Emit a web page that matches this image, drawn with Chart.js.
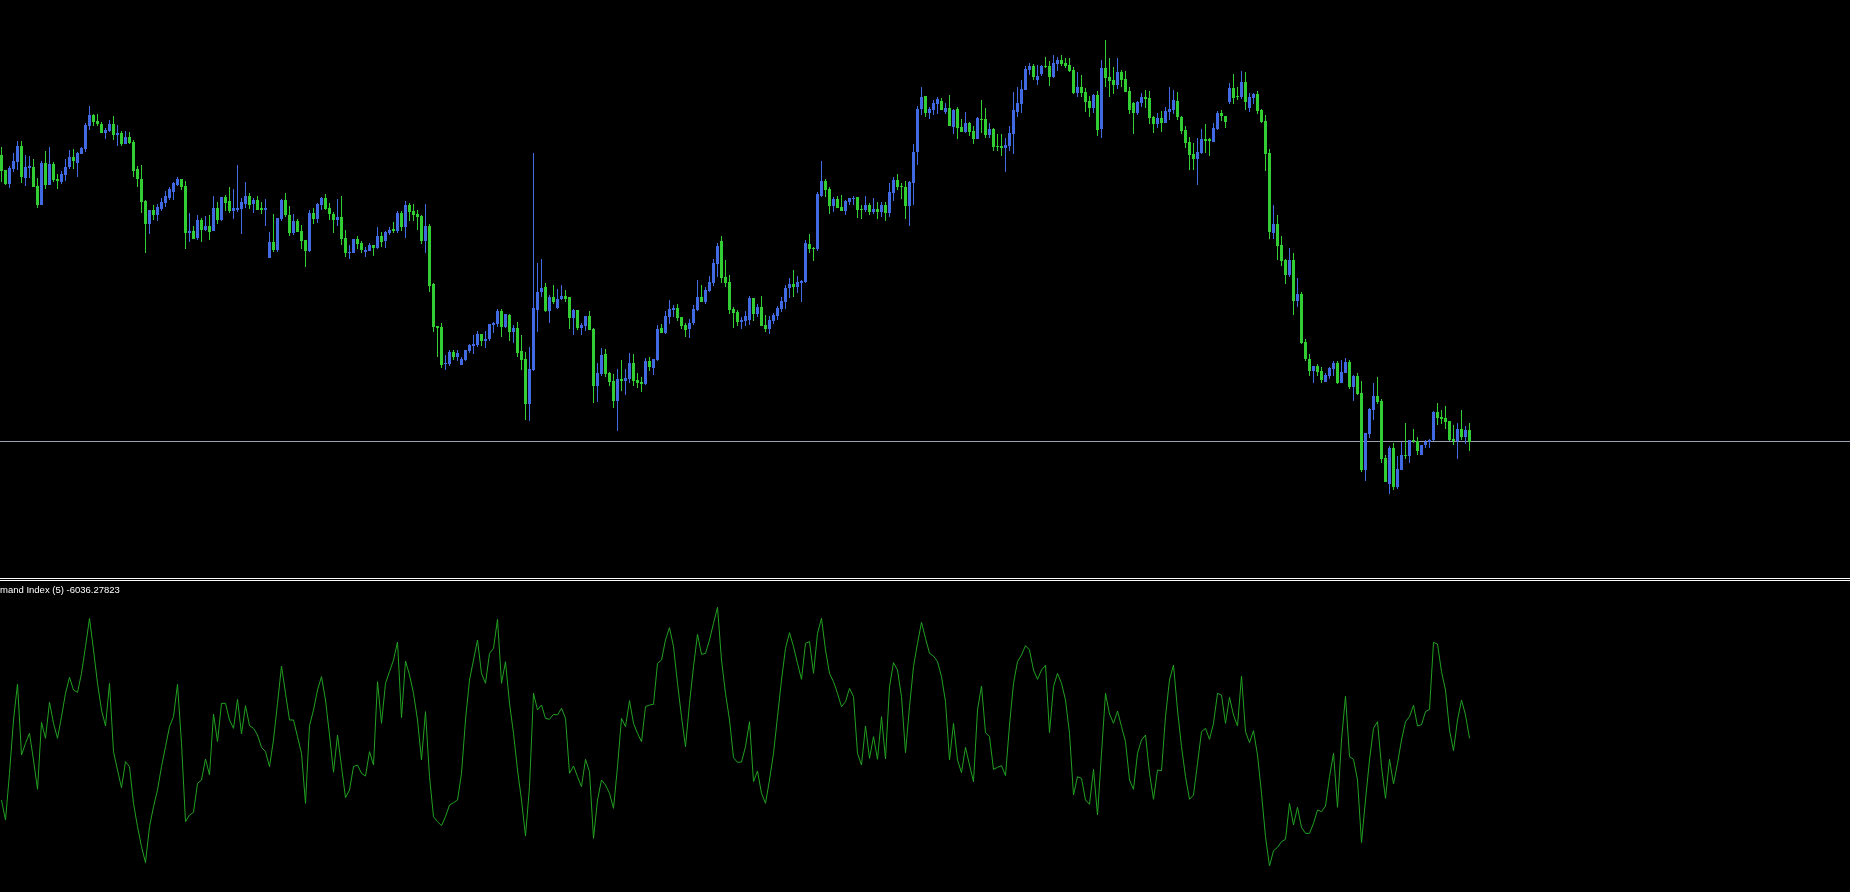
<!DOCTYPE html>
<html>
<head>
<meta charset="utf-8">
<title>Demand Index chart</title>
<script src="https://cdn.jsdelivr.net/npm/chart.js@4.4.1/dist/chart.umd.min.js"></script>
<style>
    html, body { margin: 0; padding: 0; background: #000; overflow: hidden; }
    #page { position: relative; width: 1850px; height: 892px; background: #000; }
    #priceChart { position: absolute; left: 0; top: 0; }
    .sep { position: absolute; left: 0; width: 1850px; height: 1px; background: #fff; }
    #indChart { position: absolute; left: 0; top: 582px; }
    #indLabel {
        position: absolute; left: 0; top: 584px;
        color: #fff; font-family: 'Liberation Sans', Arial, sans-serif;
        font-size: 9.5px; line-height: 12px; white-space: nowrap;
    }
</style>
</head>
<body>
<div id="page">
    <canvas id="priceChart" width="1850" height="578"></canvas>
    <div class="sep" style="top:578px"></div>
    <div class="sep" style="top:580px"></div>
    <canvas id="indChart" width="1850" height="310"></canvas>
    <div id="indLabel">mand Index (5) -6036.27823</div>
</div>
<script>
// ========================================
// data (one entry per bar)
// ========================================

const opens = [
    845, 830, 816, 831, 838, 854, 822, 832, 833, 814,
    795, 837, 815, 836, 821, 818, 825, 833, 843, 837,
    846, 851, 874, 885, 879, 876, 867, 869, 876, 865,
    867, 856, 863, 858, 831, 821, 799, 776, 790, 785,
    791, 797, 802, 808, 815, 821, 814, 767, 769, 762,
    780, 770, 774, 769, 792, 780, 803, 799, 789, 790,
    791, 796, 804, 796, 800, 792, 790, 742, 758, 750,
    781, 800, 785, 767, 779, 769, 760, 749, 787, 781,
    795, 802, 792, 786, 780, 783, 762, 747, 747, 761,
    757, 748, 749, 755, 752, 764, 759, 767, 771, 769,
    787, 773, 795, 789, 786, 784, 759, 774, 716, 674,
    673, 636, 636, 648, 643, 635, 640, 649, 654, 655,
    666, 659, 661, 675, 676, 689, 673, 685, 668, 672,
    649, 641, 596, 630, 690, 708, 713, 689, 703, 692,
    701, 704, 703, 682, 690, 672, 674, 684, 671, 614,
    626, 646, 627, 619, 599, 621, 619, 621, 637, 620,
    618, 616, 639, 632, 640, 672, 667, 683, 690, 692,
    683, 675, 671, 677, 690, 703, 698, 709, 717, 736,
    759, 723, 718, 691, 688, 678, 679, 680, 702, 686,
    693, 675, 671, 679, 684, 691, 698, 712, 716, 713,
    717, 718, 756, 752, 751, 804, 819, 811, 794, 801,
    793, 789, 798, 801, 803, 791, 790, 795, 788, 791,
    788, 795, 787, 807, 820, 814, 813, 794, 817, 848,
    891, 904, 887, 890, 896, 899, 888, 892, 873, 891,
    873, 868, 877, 869, 861, 881, 881, 865, 871, 854,
    854, 852, 854, 866, 888, 896, 910, 930, 934, 920,
    926, 934, 934, 923, 936, 940, 937, 935, 930, 907,
    913, 908, 899, 892, 905, 871, 932, 923, 920, 915,
    928, 921, 909, 897, 887, 897, 903, 902, 883, 876,
    882, 877, 888, 890, 899, 883, 870, 858, 846, 841,
    847, 861, 861, 858, 871, 887, 884, 898, 912, 904,
    903, 918, 892, 902, 906, 890, 879, 847, 767, 776,
    755, 740, 725, 740, 699, 706, 658, 641, 629, 634,
    629, 618, 624, 631, 637, 617, 627, 638, 613, 624,
    607, 530, 566, 590, 604, 599, 542, 516, 552, 513,
    530, 545, 544, 560, 559, 545, 555, 558, 560, 588,
    583, 582, 579, 561, 559, 571, 563, 570
];

const highs = [
    853, 830, 834, 847, 859, 859, 845, 844, 841, 822,
    839, 849, 853, 838, 826, 829, 841, 850, 851, 848,
    853, 877, 894, 886, 886, 878, 872, 880, 884, 875,
    869, 869, 868, 860, 834, 835, 800, 790, 795, 796,
    802, 809, 813, 818, 823, 821, 819, 787, 774, 785,
    782, 784, 785, 804, 798, 803, 805, 813, 811, 835,
    802, 818, 807, 802, 804, 798, 801, 768, 786, 782,
    801, 807, 794, 786, 781, 775, 760, 790, 792, 797,
    803, 806, 797, 788, 801, 804, 770, 755, 761, 764,
    759, 753, 757, 755, 773, 768, 769, 773, 778, 789,
    789, 799, 797, 796, 790, 785, 796, 776, 717, 674,
    677, 645, 650, 650, 650, 643, 650, 656, 665, 669,
    666, 669, 676, 678, 691, 691, 686, 686, 675, 678,
    665, 648, 653, 847, 737, 741, 717, 705, 715, 711,
    715, 710, 703, 691, 690, 677, 684, 689, 672, 637,
    652, 651, 628, 626, 631, 640, 631, 647, 646, 627,
    623, 642, 643, 641, 675, 676, 689, 700, 695, 696,
    683, 677, 681, 695, 720, 715, 713, 724, 741, 757,
    764, 740, 725, 693, 690, 683, 689, 704, 702, 696,
    704, 685, 684, 687, 694, 703, 715, 722, 730, 724,
    720, 760, 766, 753, 808, 839, 821, 813, 803, 804,
    805, 800, 802, 804, 803, 795, 804, 797, 802, 798,
    798, 798, 817, 823, 826, 817, 819, 819, 856, 894,
    913, 904, 893, 900, 903, 902, 897, 905, 891, 893,
    881, 888, 878, 874, 883, 900, 892, 877, 872, 866,
    866, 862, 874, 908, 913, 920, 934, 937, 936, 935,
    935, 943, 939, 945, 943, 945, 942, 942, 933, 928,
    925, 912, 904, 906, 909, 940, 960, 942, 933, 942,
    930, 929, 913, 898, 899, 907, 910, 909, 884, 887,
    889, 893, 913, 910, 908, 884, 874, 863, 857, 862,
    871, 876, 862, 877, 889, 890, 884, 917, 926, 913,
    929, 928, 907, 907, 909, 891, 885, 851, 795, 785,
    764, 741, 752, 747, 722, 708, 661, 646, 634, 636,
    633, 627, 633, 639, 639, 640, 642, 640, 625, 627,
    619, 567, 592, 617, 623, 601, 545, 554, 557, 544,
    558, 577, 560, 571, 563, 555, 560, 561, 589, 597,
    590, 594, 579, 575, 577, 590, 574, 577
];

const lows = [
    818, 815, 812, 828, 830, 817, 814, 822, 813, 792,
    795, 811, 815, 818, 811, 816, 819, 831, 831, 823,
    846, 848, 870, 874, 874, 867, 861, 868, 860, 854,
    854, 856, 856, 823, 813, 787, 747, 766, 780, 779,
    789, 793, 800, 800, 814, 810, 751, 758, 761, 760,
    758, 769, 760, 769, 776, 779, 789, 787, 781, 788,
    766, 792, 791, 787, 790, 786, 774, 742, 748, 748,
    779, 783, 764, 765, 768, 751, 733, 748, 776, 777,
    790, 790, 780, 767, 774, 755, 743, 741, 747, 751,
    747, 743, 749, 744, 751, 753, 752, 765, 767, 767,
    769, 762, 779, 779, 770, 756, 747, 708, 668, 643,
    632, 630, 634, 640, 639, 635, 639, 647, 646, 653,
    654, 652, 659, 667, 673, 663, 672, 659, 657, 643,
    630, 580, 579, 629, 668, 703, 688, 677, 696, 691,
    700, 698, 671, 665, 670, 665, 669, 670, 597, 598,
    624, 623, 614, 592, 569, 609, 605, 617, 614, 612,
    608, 615, 629, 625, 639, 667, 666, 676, 683, 679,
    671, 663, 662, 675, 689, 698, 696, 708, 714, 723,
    717, 713, 686, 672, 674, 671, 674, 675, 679, 683,
    674, 668, 666, 676, 680, 688, 691, 702, 703, 707,
    698, 717, 747, 739, 749, 803, 803, 786, 788, 792,
    789, 785, 795, 795, 782, 781, 788, 785, 786, 781,
    783, 779, 783, 799, 810, 801, 781, 774, 795, 835,
    885, 883, 881, 885, 886, 890, 886, 874, 866, 861,
    868, 867, 864, 856, 861, 867, 862, 862, 849, 849,
    844, 828, 849, 846, 883, 887, 910, 925, 920, 915,
    924, 932, 914, 922, 929, 934, 932, 928, 906, 903,
    903, 888, 883, 887, 864, 862, 913, 903, 906, 911,
    913, 908, 886, 866, 885, 893, 892, 876, 867, 872,
    868, 877, 880, 886, 880, 866, 852, 830, 830, 815,
    846, 847, 844, 858, 870, 879, 872, 896, 896, 900,
    901, 890, 888, 896, 886, 877, 829, 761, 761, 740,
    734, 716, 723, 685, 693, 656, 639, 624, 617, 624,
    617, 618, 621, 624, 616, 617, 627, 611, 599, 605,
    528, 519, 562, 580, 596, 537, 518, 506, 510, 511,
    530, 541, 537, 557, 545, 545, 552, 552, 559, 575,
    576, 571, 559, 555, 541, 560, 556, 549
];

const closes = [
    829, 816, 832, 839, 854, 823, 833, 834, 813, 795,
    837, 815, 836, 820, 819, 826, 833, 843, 839, 847,
    852, 875, 885, 878, 876, 867, 870, 876, 865, 867,
    856, 863, 857, 829, 821, 798, 776, 790, 785, 793,
    798, 804, 811, 817, 821, 813, 767, 769, 761, 780,
    770, 774, 768, 792, 780, 803, 797, 789, 792, 792,
    798, 804, 795, 800, 790, 790, 792, 758, 750, 782,
    800, 785, 767, 779, 768, 759, 749, 787, 781, 796,
    802, 791, 786, 780, 783, 761, 747, 748, 761, 756,
    750, 750, 755, 752, 764, 758, 768, 770, 769, 787,
    773, 795, 788, 785, 783, 759, 774, 714, 673, 672,
    635, 637, 648, 643, 647, 641, 650, 655, 656, 666,
    659, 661, 676, 677, 689, 673, 686, 668, 672, 647,
    640, 596, 631, 692, 708, 712, 689, 703, 698, 701,
    704, 701, 682, 690, 672, 675, 684, 670, 614, 627,
    645, 626, 618, 599, 621, 619, 622, 637, 619, 617,
    616, 639, 633, 641, 671, 667, 684, 691, 692, 682,
    674, 670, 677, 691, 703, 698, 710, 718, 737, 754,
    722, 717, 690, 687, 678, 680, 684, 702, 686, 693,
    674, 671, 680, 685, 692, 699, 712, 716, 713, 718,
    719, 757, 751, 751, 806, 819, 810, 794, 801, 792,
    789, 799, 802, 802, 790, 790, 795, 788, 791, 788,
    795, 787, 808, 820, 813, 813, 794, 818, 848, 891,
    903, 887, 891, 897, 901, 890, 892, 874, 890, 872,
    868, 877, 868, 861, 882, 880, 865, 871, 853, 853,
    852, 855, 867, 890, 897, 911, 931, 934, 923, 924,
    934, 933, 923, 937, 940, 936, 934, 929, 907, 913,
    907, 898, 892, 905, 870, 932, 922, 919, 915, 928,
    920, 908, 890, 887, 898, 903, 901, 882, 876, 882,
    877, 889, 891, 900, 883, 869, 857, 845, 841, 848,
    861, 859, 859, 872, 887, 884, 878, 912, 902, 903,
    918, 898, 903, 906, 889, 878, 846, 768, 776, 754,
    739, 725, 740, 699, 706, 657, 641, 629, 634, 628,
    620, 625, 632, 637, 617, 628, 638, 613, 624, 606,
    530, 567, 591, 604, 598, 541, 518, 552, 513, 531,
    545, 544, 560, 559, 549, 555, 558, 560, 588, 582,
    581, 578, 560, 559, 571, 563, 570, 558
];

// Demand Index (5), lower pane
const demandIndex = [
    280, 220, 360, 520, 628, 415, 450, 480, 400, 312,
    513, 465, 573, 510, 465, 530, 600, 648, 610, 603,
    660, 740, 825, 730, 630, 550, 502, 630, 425, 370,
    317, 395, 380, 270, 200, 140, 92, 200, 260, 310,
    380, 440, 500, 530, 627, 450, 215, 235, 243, 330,
    340, 403, 355, 538, 455, 570, 570, 520, 495, 582,
    478, 563, 503, 495, 475, 438, 425, 380, 460, 570,
    682, 600, 520, 520, 470, 420, 270, 503, 550, 610,
    650, 580, 475, 363, 475, 380, 287, 310, 380, 385,
    360, 352, 425, 385, 635, 510, 630, 665, 700, 754,
    527, 697, 655, 600, 520, 400, 545, 350, 230, 215,
    203, 230, 265, 272, 280, 360, 520, 640, 700, 760,
    660, 630, 720, 735, 822, 630, 695, 570, 480, 370,
    280, 172, 320, 600, 550, 565, 525, 522, 537, 535,
    555, 525, 360, 382, 350, 320, 402, 365, 165, 280,
    340, 325, 300, 255, 380, 525, 500, 578, 510, 480,
    455, 560, 565, 567, 690, 700, 760, 797, 740, 630,
    530, 440, 570, 680, 777, 717, 720, 760, 810, 858,
    700, 600, 520, 407, 393, 394, 440, 515, 335, 367,
    300, 270, 340, 420, 530, 640, 735, 782, 740, 690,
    642, 750, 755, 660, 780, 825, 730, 660, 635, 600,
    560, 575, 615, 590, 420, 385, 502, 405, 470, 402,
    530, 403, 620, 692, 670, 590, 422, 560, 680, 750,
    813, 765, 720, 712, 695, 650, 575, 400, 510, 400,
    362, 438, 385, 335, 550, 622, 482, 470, 372, 378,
    383, 353, 505, 630, 695, 715, 743, 730, 670, 642,
    670, 684, 482, 620, 660, 630, 580, 480, 295, 350,
    345, 280, 267, 372, 235, 420, 600, 538, 510, 547,
    500, 455, 340, 312, 420, 460, 475, 360, 282, 370,
    368, 530, 640, 685, 550, 440, 350, 282, 295, 390,
    485, 495, 462, 510, 600, 595, 510, 588, 535, 502,
    652, 485, 452, 488, 415, 300, 170, 82, 128, 138,
    155, 162, 270, 205, 258, 198, 180, 180, 210, 250,
    245, 262, 350, 420, 258, 460, 592, 410, 402, 340,
    152, 280, 400, 495, 515, 380, 285, 402, 328, 390,
    460, 515, 530, 564, 502, 506, 545, 552, 753, 748,
    665, 610, 490, 428, 520, 580, 535, 465
];

// last bid price (grey horizontal line)
const bidPrice = 558.5;

// visible ranges of the two panes
const priceRange = [422, 1000];
const indRange = [4, 934];

// ========================================
// colours
// ========================================

const upColor = '#4169e1';     // close above open
const downColor = '#32cd32';   // close below open
const bidColor = '#96a0b0';
const indColor = '#22a022';

// ========================================
// building the datasets
// ========================================

const candleColors = opens.map((o, i) => closes[i] >= o ? upColor : downColor);
const wicks = opens.map((o, i) => ({ x: i, y: [lows[i], highs[i]] }));
const bodies = opens.map((o, i) => ({ x: i, y: [o, closes[i]] }));
const demandPoints = demandIndex.map((v, i) => ({ x: i, y: v }));

// 4 px per bar, first bar centred at x = 1.5
const xMin = -0.375;
const xMax = xMin + 1850 / 4;

const commonOptions = {
    responsive: false,
    animation: false,
    devicePixelRatio: 1,
    events: [],
    layout: { padding: 0 },
    plugins: {
        legend: { display: false },
        tooltip: { enabled: false }
    }
};

// price pane
new Chart(document.getElementById('priceChart'), {
    type: 'bar',
    data: {
        datasets: [
            {
                type: 'line',
                data: [{ x: xMin - 1, y: bidPrice }, { x: xMax + 1, y: bidPrice }],
                borderColor: bidColor,
                borderWidth: 1,
                pointRadius: 0,
                order: 3
            },
            {
                data: wicks,
                backgroundColor: candleColors,
                barThickness: 1,
                grouped: false,
                inflateAmount: 0,
                order: 2
            },
            {
                data: bodies,
                backgroundColor: candleColors,
                barThickness: 3,
                minBarLength: 1,
                grouped: false,
                inflateAmount: 0,
                order: 1
            }
        ]
    },
    options: {
        ...commonOptions,
        scales: {
            x: { type: 'linear', min: xMin, max: xMax, offset: false, display: false },
            y: { min: priceRange[0], max: priceRange[1], display: false }
        }
    }
});

// indicator pane
new Chart(document.getElementById('indChart'), {
    type: 'line',
    data: {
        datasets: [{
            data: demandPoints,
            borderColor: indColor,
            borderWidth: 1,
            pointRadius: 0,
            tension: 0
        }]
    },
    options: {
        ...commonOptions,
        scales: {
            x: { type: 'linear', min: xMin, max: xMax, offset: false, display: false },
            y: { min: indRange[0], max: indRange[1], display: false }
        }
    }
});
</script>
</body>
</html>
